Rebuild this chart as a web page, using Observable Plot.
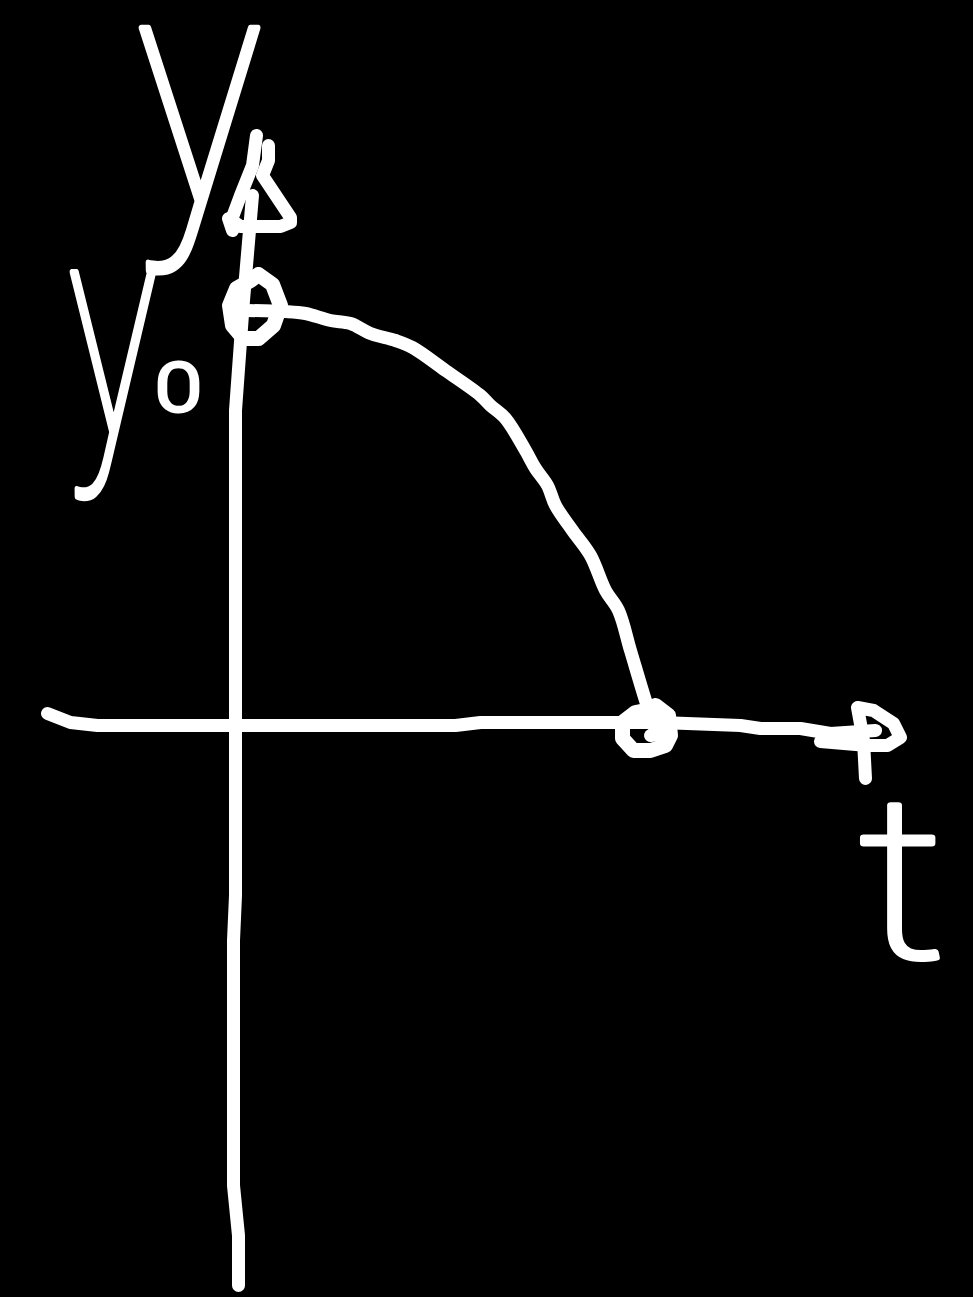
<!DOCTYPE html>
<html><head><meta charset="utf-8">
<script src="https://cdn.jsdelivr.net/npm/d3@7"></script>
<script src="https://cdn.jsdelivr.net/npm/@observablehq/plot@0.6"></script>
<style>html,body{margin:0;padding:0;background:#000}svg{display:block;overflow:visible}</style>
</head><body><div id="chart"></div>
<script>
// Sketch points: [t, y], with the axes crossing at 0,0
const verticalAxis = [[17,530],[8,425],[0,315],[0,-170],[-2,-215],[-2,-460],[3,-510],[3,-560]];
const verticalArrowLeft = [[21,590],[17,560],[5,530],[-5,503]];
const verticalArrowRight = [[33,580],[33,565],[27,550],[55,508],[55,503],[45,499],[5,499],[-7,507],[-3,495]];
const horizontalAxis = [[-188,12],[-165,3],[-138,0],[220,0],[245,3],[425,3],[505,0],[525,-3],[565,-3],[595,-8],[640,-5]];
const horizontalArrow = [[585,-16],[632,-20],[652,-20],[665,-12],[658,2],[638,15],[622,18],[628,-15],[630,-53]];
const curve = [[10,415],[50,414],[70,412],[95,405],[115,402],[135,392],[160,385],[177,378],[210,355],[245,330],[255,320],[270,307],[290,275],[300,257],[312,240],[320,220],[337,195],[355,170],[370,135],[383,115],[395,75],[410,25],[420,-5]];
const startCircle = [[23,451],[37,441],[45,420],[38,400],[23,387],[8,387],[-3,400],[-6,420],[1,437],[15,445],[23,451]];
const endCircle = [[420,20],[433,10],[435,-10],[430,-20],[415,-25],[398,-25],[387,-13],[387,3],[400,13],[420,17]];
const endCircleInner = [[415,-10],[427,-8]];
const thinStrokes = [verticalAxis, verticalArrowLeft, verticalArrowRight, horizontalAxis, horizontalArrow, endCircleInner];
const ringStrokes = [startCircle, endCircle];
const labelText = ["y", "y", "0", "t"];
const labelT = [-100, -168, -79, 623];
const labelY = [629, 390, 336, -159];
const labelSize = [330, 305, 65, 226];
const labelLength = [127, 90, 44, 88];
const labels = labelText.map((text,i) => ({text, t:labelT[i], y:labelY[i], size:labelSize[i]}));
const pen = {x:d=>d[0], y:d=>d[1], stroke:"#fff", strokeLinecap:"round", strokeLinejoin:"round"};
const chart = Plot.plot({
  width:973, height:1297, margin:0,
  style:{background:"#000", overflow:"visible"},
  x:{domain:[-235,738], range:[0,973], axis:null},
  y:{domain:[-572,725], range:[1297,0], axis:null},
  marks:[
    ...thinStrokes.map(s => Plot.line(s, {...pen, strokeWidth:13})),
    Plot.line(curve, {...pen, strokeWidth:13, curve:"catmull-rom"}),
    ...ringStrokes.map(s => Plot.line(s, {...pen, strokeWidth:15})),
    Plot.text(labels, {x:"t", y:"y", text:"text", fontSize:"size", fill:"#fff", stroke:"#fff", strokeWidth:6, strokeLinejoin:"round", textAnchor:"start", fontFamily:"Roboto", fontWeight:100})
  ]
});
d3.select(chart).selectAll("text").filter(function(){return this.textContent.length===1;}).each(function(_,i){
  this.setAttribute("textLength", labelLength[i]);
  this.setAttribute("lengthAdjust","spacingAndGlyphs");
});
document.getElementById("chart").append(chart);
</script></body></html>
